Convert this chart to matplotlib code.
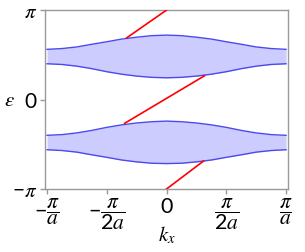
import numpy as np
import matplotlib
matplotlib.use("Agg")
import matplotlib.pyplot as plt

plt.rcParams['mathtext.fontset'] = 'custom'
plt.rcParams['mathtext.rm'] = 'Lato'
plt.rcParams['mathtext.it'] = 'STIXGeneral:italic'

# k in units of pi/a, energies in units of pi
k_pts = [-1, -0.875, -0.75, -0.625, -0.5, -0.375, -0.25, -0.125, 0,
         0.125, 0.25, 0.375, 0.5, 0.625, 0.75, 0.875, 1]
upper_top = [0.561, 0.570, 0.588, 0.618, 0.646, 0.676, 0.697, 0.714, 0.720,
             0.714, 0.697, 0.676, 0.646, 0.618, 0.588, 0.570, 0.561]
upper_bot = [0.400, 0.392, 0.373, 0.345, 0.311, 0.283, 0.262, 0.248, 0.243,
             0.248, 0.262, 0.283, 0.311, 0.345, 0.373, 0.392, 0.400]
lower_top = [-0.400, -0.392, -0.373, -0.345, -0.311, -0.283, -0.262, -0.248, -0.241,
             -0.248, -0.262, -0.283, -0.311, -0.345, -0.373, -0.392, -0.400]
lower_bot = [-0.561, -0.570, -0.588, -0.618, -0.646, -0.676, -0.697, -0.712, -0.716,
             -0.712, -0.697, -0.676, -0.646, -0.618, -0.588, -0.570, -0.561]

# edge-state segments (k, eps) in units of pi
edge_top_k = [-0.333, 0.0]
edge_top_e = [0.690, 1.0]
edge_mid_k = [-0.351, 0.318]
edge_mid_e = [-0.266, 0.266]
edge_bot_k = [0.0, 0.31]
edge_bot_e = [-1.0, -0.687]

xtick_vals = [-1, -0.5, 0, 0.5, 1]
xtick_labels = [r'$-\dfrac{\pi}{a}$', r'$-\dfrac{\pi}{2a}$', r'$0$',
                r'$\dfrac{\pi}{2a}$', r'$\dfrac{\pi}{a}$']
ytick_vals = [-1, 0, 1]
ytick_labels = [r'$-\pi$', r'$0$', r'$\pi$']

pi = np.pi
fig = plt.figure(figsize=(3.05, 2.52), dpi=100)
ax = fig.add_axes([0.1475, 0.25, 0.797, 0.71])

k = np.array(k_pts) * pi
fill_c = '#ccccff'
line_c = '#4a4aee'
for top, bot in [(upper_top, upper_bot), (lower_top, lower_bot)]:
    t = np.array(top) * pi
    b = np.array(bot) * pi
    ax.fill_between(k, b, t, color=fill_c, lw=0, zorder=1)
    ax.plot(k, t, color=line_c, lw=1.0, zorder=2)
    ax.plot(k, b, color=line_c, lw=1.0, zorder=2)

for kk, ee in [(edge_top_k, edge_top_e), (edge_mid_k, edge_mid_e), (edge_bot_k, edge_bot_e)]:
    ax.plot(np.array(kk) * pi, np.array(ee) * pi, color='red', lw=1.2, zorder=3)

ax.set_xlim(-1.017 * pi, 1.017 * pi)
ax.set_ylim(-pi, pi)
ax.set_xticks(np.array(xtick_vals) * pi)
ax.set_xticklabels(xtick_labels, fontsize=15.5)
ax.set_yticks(np.array(ytick_vals) * pi)
ax.set_yticklabels(ytick_labels, fontsize=15)
ax.set_xlabel(r'$k_x$', fontsize=15, labelpad=-6)
ax.set_ylabel(r'$\epsilon$', fontsize=15, rotation=0, labelpad=2, va='center')
for s in ax.spines.values():
    s.set_color('#999999')
    s.set_linewidth(1.0)
ax.tick_params(color='#999999', length=3.5, width=1.0, pad=2)

fig.savefig('out.png', dpi=100)
